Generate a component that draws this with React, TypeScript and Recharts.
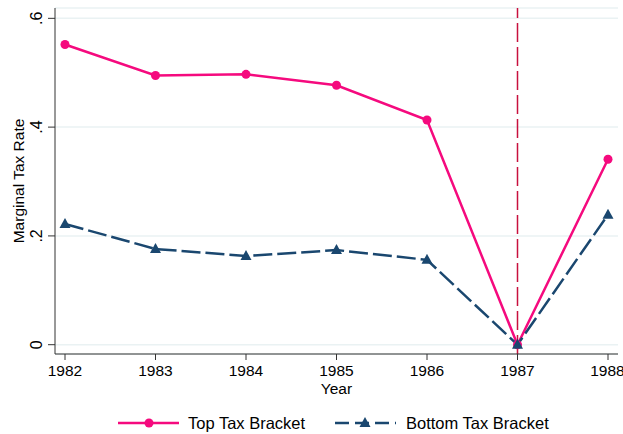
import React from "react";
import {
  LineChart,
  Line,
  XAxis,
  YAxis,
  CartesianGrid,
  ReferenceLine,
  Legend,
} from "recharts";

const years = [1982, 1983, 1984, 1985, 1986, 1987, 1988];
const topBracket = [0.552, 0.495, 0.497, 0.477, 0.413, 0, 0.341];
const bottomBracket = [0.222, 0.176, 0.163, 0.174, 0.156, 0, 0.239];
const yTicks = [0, 0.2, 0.4, 0.6];
const yTickLabels = ["0", ".2", ".4", ".6"];
const reformYear = 1987;

const PINK = "#f50a7e";
const NAVY = "#1a476f";
const RED = "#c8103e";
const FONT = "'Liberation Sans', Arial, sans-serif";

const data = years.map((year, i) => ({
  year,
  top: topBracket[i],
  bottom: bottomBracket[i],
}));

const YTick = ({ x, y, payload }: any) => {
  const idx = yTicks.indexOf(payload.value);
  const bx = x - 4;
  return (
    <text
      x={bx}
      y={y}
      textAnchor="middle"
      transform={`rotate(-90, ${bx}, ${y})`}
      style={{ fontSize: 16, fontFamily: FONT }}
      fill="#000"
    >
      {idx >= 0 ? yTickLabels[idx] : payload.value}
    </text>
  );
};

const Triangle = ({ cx, cy }: any) => {
  if (cx == null || cy == null) return null;
  return (
    <polygon
      points={`${cx},${cy - 6} ${cx - 5.5},${cy + 4} ${cx + 5.5},${cy + 4}`}
      fill={NAVY}
    />
  );
};

const LegendContent = () => (
  <svg width={623} height={24} style={{ display: "block" }}>
    <line x1={118} x2={179} y1={13} y2={13} stroke={PINK} strokeWidth={2.5} />
    <circle cx={149} cy={13} r={4.5} fill={PINK} />
    <text x={188} y={18.5} style={{ fontSize: 16.5, fontFamily: FONT }} fill="#000">
      Top Tax Bracket
    </text>
    <line
      x1={335}
      x2={396}
      y1={13}
      y2={13}
      stroke={NAVY}
      strokeWidth={2.5}
      strokeDasharray="14 6"
    />
    <polygon points="365,7 359.5,17 370.5,17" fill={NAVY} />
    <text x={406} y={18.5} style={{ fontSize: 16.5, fontFamily: FONT }} fill="#000">
      Bottom Tax Bracket
    </text>
  </svg>
);

export default function App() {
  return (
    <div style={{ position: "absolute", left: 0, top: 0, background: "#fff" }}>
      <LineChart
        width={623}
        height={434}
        data={data}
        margin={{ top: 8, right: 5, left: 0, bottom: 0 }}
      >
        <CartesianGrid vertical={false} stroke="#eaf2f3" strokeWidth={1.5} />
        <XAxis
          dataKey="year"
          type="category"
          height={56}
          padding={{ left: 10, right: 10 }}
          tick={{ fill: "#000", fontSize: 15.5, fontFamily: FONT }}
          tickSize={6}
          tickMargin={5}
          axisLine={{ stroke: "#333" }}
          tickLine={{ stroke: "#333" }}
          label={{
            value: "Year",
            position: "insideTop",
            offset: 29,
            fill: "#000",
            fontSize: 15.5,
            fontFamily: FONT,
          }}
        />
        <YAxis
          type="number"
          width={55}
          domain={[-0.0171, 0.619]}
          ticks={yTicks}
          allowDataOverflow
          tick={<YTick />}
          tickSize={7}
          axisLine={{ stroke: "#333" }}
          tickLine={{ stroke: "#333" }}
          label={{
            value: "Marginal Tax Rate",
            angle: -90,
            position: "center",
            dx: -9.5,
            fill: "#000",
            fontSize: 15.5,
            fontFamily: FONT,
          }}
        />
        <ReferenceLine
          x={reformYear}
          stroke={RED}
          strokeWidth={1.5}
          strokeDasharray="19 5"
        />
        <Line
          dataKey="top"
          stroke={PINK}
          strokeWidth={2.5}
          dot={{ r: 4.5, fill: PINK, stroke: PINK, strokeWidth: 0 }}
          activeDot={false}
          isAnimationActive={false}
        />
        <Line
          dataKey="bottom"
          stroke={NAVY}
          strokeWidth={2.5}
          strokeDasharray="19 5"
          dot={<Triangle />}
          activeDot={false}
          isAnimationActive={false}
        />
        <Legend
          verticalAlign="bottom"
          height={24}
          content={<LegendContent />}
          wrapperStyle={{ left: 0, width: 623, height: 24 }}
        />
      </LineChart>
    </div>
  );
}
